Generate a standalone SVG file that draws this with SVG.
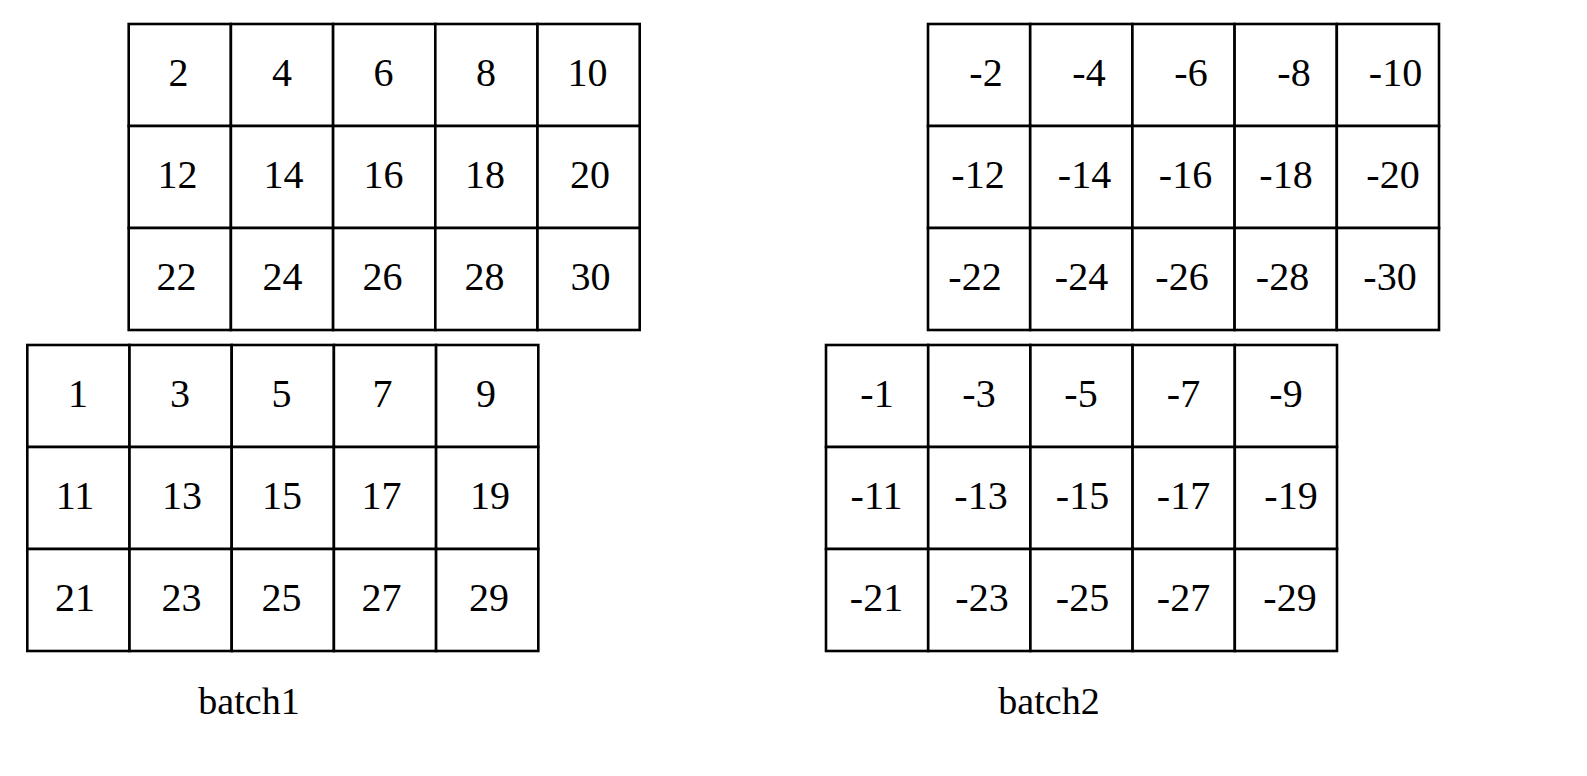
<svg xmlns="http://www.w3.org/2000/svg" width="1587" height="776" viewBox="0 0 1587 776">
<style>
.c{fill:#fff;stroke:#000;stroke-width:2.6}
.t{font-family:"Liberation Serif","Times New Roman",serif;font-size:40px;text-anchor:middle;fill:#000}
.l{font-family:"Liberation Serif","Times New Roman",serif;font-size:38px;text-anchor:middle;fill:#000}
</style>
<rect width="1587" height="776" fill="#fff"/>
<g id="batch1-back">
<g id="c2"><rect class="c" x="128.7" y="24" width="102.2" height="102"/><text class="t" x="178.5" y="86">2</text></g>
<g id="c4"><rect class="c" x="230.9" y="24" width="102.2" height="102"/><text class="t" x="282" y="86">4</text></g>
<g id="c6"><rect class="c" x="333.1" y="24" width="102.2" height="102"/><text class="t" x="383.5" y="86">6</text></g>
<g id="c8"><rect class="c" x="435.3" y="24" width="102.2" height="102"/><text class="t" x="486" y="86">8</text></g>
<g id="c10"><rect class="c" x="537.5" y="24" width="102.2" height="102"/><text class="t" x="587.5" y="86">10</text></g>
<g id="c12"><rect class="c" x="128.7" y="126" width="102.2" height="102"/><text class="t" x="177.5" y="188">12</text></g>
<g id="c14"><rect class="c" x="230.9" y="126" width="102.2" height="102"/><text class="t" x="283.5" y="188">14</text></g>
<g id="c16"><rect class="c" x="333.1" y="126" width="102.2" height="102"/><text class="t" x="383.5" y="188">16</text></g>
<g id="c18"><rect class="c" x="435.3" y="126" width="102.2" height="102"/><text class="t" x="485" y="188">18</text></g>
<g id="c20"><rect class="c" x="537.5" y="126" width="102.2" height="102"/><text class="t" x="590" y="188">20</text></g>
<g id="c22"><rect class="c" x="128.7" y="228" width="102.2" height="102"/><text class="t" x="176.5" y="290">22</text></g>
<g id="c24"><rect class="c" x="230.9" y="228" width="102.2" height="102"/><text class="t" x="282.5" y="290">24</text></g>
<g id="c26"><rect class="c" x="333.1" y="228" width="102.2" height="102"/><text class="t" x="382.5" y="290">26</text></g>
<g id="c28"><rect class="c" x="435.3" y="228" width="102.2" height="102"/><text class="t" x="484.5" y="290">28</text></g>
<g id="c30"><rect class="c" x="537.5" y="228" width="102.2" height="102"/><text class="t" x="590.5" y="290">30</text></g>
</g>
<g id="batch1-front">
<g id="c1"><rect class="c" x="27.3" y="345" width="102.2" height="102"/><text class="t" x="78" y="407">1</text></g>
<g id="c3"><rect class="c" x="129.5" y="345" width="102.2" height="102"/><text class="t" x="180" y="407">3</text></g>
<g id="c5"><rect class="c" x="231.7" y="345" width="102.2" height="102"/><text class="t" x="281.5" y="407">5</text></g>
<g id="c7"><rect class="c" x="333.9" y="345" width="102.2" height="102"/><text class="t" x="382.5" y="407">7</text></g>
<g id="c9"><rect class="c" x="436.1" y="345" width="102.2" height="102"/><text class="t" x="486" y="407">9</text></g>
<g id="c11"><rect class="c" x="27.3" y="447" width="102.2" height="102"/><text class="t" x="75" y="509">11</text></g>
<g id="c13"><rect class="c" x="129.5" y="447" width="102.2" height="102"/><text class="t" x="182" y="509">13</text></g>
<g id="c15"><rect class="c" x="231.7" y="447" width="102.2" height="102"/><text class="t" x="282" y="509">15</text></g>
<g id="c17"><rect class="c" x="333.9" y="447" width="102.2" height="102"/><text class="t" x="381.5" y="509">17</text></g>
<g id="c19"><rect class="c" x="436.1" y="447" width="102.2" height="102"/><text class="t" x="490" y="509">19</text></g>
<g id="c21"><rect class="c" x="27.3" y="549" width="102.2" height="102"/><text class="t" x="75" y="611">21</text></g>
<g id="c23"><rect class="c" x="129.5" y="549" width="102.2" height="102"/><text class="t" x="181.5" y="611">23</text></g>
<g id="c25"><rect class="c" x="231.7" y="549" width="102.2" height="102"/><text class="t" x="281.5" y="611">25</text></g>
<g id="c27"><rect class="c" x="333.9" y="549" width="102.2" height="102"/><text class="t" x="381.5" y="611">27</text></g>
<g id="c29"><rect class="c" x="436.1" y="549" width="102.2" height="102"/><text class="t" x="489" y="611">29</text></g>
</g>
<g id="batch2-back">
<g id="n2"><rect class="c" x="928" y="24" width="102.2" height="102"/><text class="t" x="986" y="86">-2</text></g>
<g id="n4"><rect class="c" x="1030.2" y="24" width="102.2" height="102"/><text class="t" x="1089" y="86">-4</text></g>
<g id="n6"><rect class="c" x="1132.4" y="24" width="102.2" height="102"/><text class="t" x="1191" y="86">-6</text></g>
<g id="n8"><rect class="c" x="1234.6" y="24" width="102.2" height="102"/><text class="t" x="1294" y="86">-8</text></g>
<g id="n10"><rect class="c" x="1336.8" y="24" width="102.2" height="102"/><text class="t" x="1395.5" y="86">-10</text></g>
<g id="n12"><rect class="c" x="928" y="126" width="102.2" height="102"/><text class="t" x="978" y="188">-12</text></g>
<g id="n14"><rect class="c" x="1030.2" y="126" width="102.2" height="102"/><text class="t" x="1084.5" y="188">-14</text></g>
<g id="n16"><rect class="c" x="1132.4" y="126" width="102.2" height="102"/><text class="t" x="1185.5" y="188">-16</text></g>
<g id="n18"><rect class="c" x="1234.6" y="126" width="102.2" height="102"/><text class="t" x="1286" y="188">-18</text></g>
<g id="n20"><rect class="c" x="1336.8" y="126" width="102.2" height="102"/><text class="t" x="1393" y="188">-20</text></g>
<g id="n22"><rect class="c" x="928" y="228" width="102.2" height="102"/><text class="t" x="975" y="290">-22</text></g>
<g id="n24"><rect class="c" x="1030.2" y="228" width="102.2" height="102"/><text class="t" x="1081.5" y="290">-24</text></g>
<g id="n26"><rect class="c" x="1132.4" y="228" width="102.2" height="102"/><text class="t" x="1182" y="290">-26</text></g>
<g id="n28"><rect class="c" x="1234.6" y="228" width="102.2" height="102"/><text class="t" x="1282.5" y="290">-28</text></g>
<g id="n30"><rect class="c" x="1336.8" y="228" width="102.2" height="102"/><text class="t" x="1390" y="290">-30</text></g>
</g>
<g id="batch2-front">
<g id="n1"><rect class="c" x="826" y="345" width="102.2" height="102"/><text class="t" x="877" y="407">-1</text></g>
<g id="n3"><rect class="c" x="928.2" y="345" width="102.2" height="102"/><text class="t" x="979" y="407">-3</text></g>
<g id="n5"><rect class="c" x="1030.4" y="345" width="102.2" height="102"/><text class="t" x="1081" y="407">-5</text></g>
<g id="n7"><rect class="c" x="1132.6" y="345" width="102.2" height="102"/><text class="t" x="1183.5" y="407">-7</text></g>
<g id="n9"><rect class="c" x="1234.8" y="345" width="102.2" height="102"/><text class="t" x="1286" y="407">-9</text></g>
<g id="n11"><rect class="c" x="826" y="447" width="102.2" height="102"/><text class="t" x="876.5" y="509">-11</text></g>
<g id="n13"><rect class="c" x="928.2" y="447" width="102.2" height="102"/><text class="t" x="981" y="509">-13</text></g>
<g id="n15"><rect class="c" x="1030.4" y="447" width="102.2" height="102"/><text class="t" x="1082.5" y="509">-15</text></g>
<g id="n17"><rect class="c" x="1132.6" y="447" width="102.2" height="102"/><text class="t" x="1183.5" y="509">-17</text></g>
<g id="n19"><rect class="c" x="1234.8" y="447" width="102.2" height="102"/><text class="t" x="1291" y="509">-19</text></g>
<g id="n21"><rect class="c" x="826" y="549" width="102.2" height="102"/><text class="t" x="876.5" y="611">-21</text></g>
<g id="n23"><rect class="c" x="928.2" y="549" width="102.2" height="102"/><text class="t" x="982" y="611">-23</text></g>
<g id="n25"><rect class="c" x="1030.4" y="549" width="102.2" height="102"/><text class="t" x="1082.5" y="611">-25</text></g>
<g id="n27"><rect class="c" x="1132.6" y="549" width="102.2" height="102"/><text class="t" x="1183.5" y="611">-27</text></g>
<g id="n29"><rect class="c" x="1234.8" y="549" width="102.2" height="102"/><text class="t" x="1290" y="611">-29</text></g>
</g>
<g id="labels">
<text class="l" x="249" y="714">batch1</text>
<text class="l" x="1049" y="714">batch2</text>
</g>
<g id="connectors"/>
</svg>
